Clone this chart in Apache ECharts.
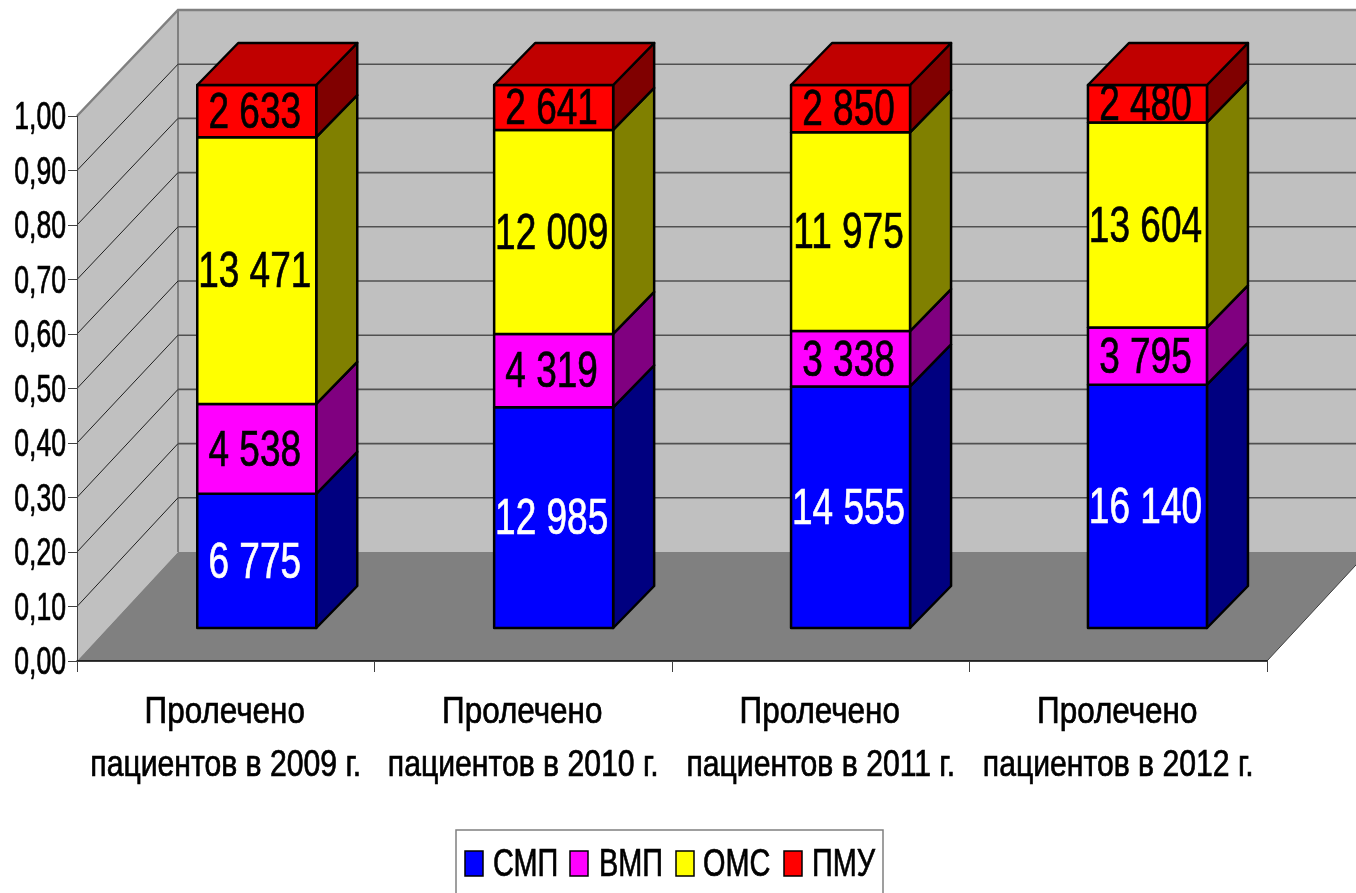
<!DOCTYPE html>
<html><head><meta charset="utf-8">
<style>html,body{margin:0;padding:0;background:#fff}#c{width:1356px;height:893px}</style>
<script src="https://cdn.jsdelivr.net/npm/echarts@6/dist/echarts.min.js"></script>
</head><body><div id="c"></div>
<script>
const categories = ['Пролечено\nпациентов в 2009 г.','Пролечено\nпациентов в 2010 г.','Пролечено\nпациентов в 2011 г.','Пролечено\nпациентов в 2012 г.'];
const smp = [6775, 12985, 14555, 16140];
const vmp = [4538, 4319, 3338, 3795];
const oms = [13471, 12009, 11975, 13604];
const pmu = [2633, 2641, 2850, 2480];
const yTicks = [0,0.1,0.2,0.3,0.4,0.5,0.6,0.7,0.8,0.9,1];
const seriesNames = ['СМП','ВМП','ОМС','ПМУ'];
const seriesValues = [smp, vmp, oms, pmu];
const frontColors = ['#0000FF','#FF00FF','#FFFF00','#FF0000'];
const sideColors = ['#000080','#800080','#808000','#800000'];
const labelColors = ['#FFFFFF','#000000','#000000','#000000'];
const FONT = '"Liberation Sans",Arial,sans-serif';

const fmt = v => String(v).replace(/\B(?=(\d{3})+$)/g,' ');
const chart = echarts.init(document.getElementById('c'));

function narrowText(text,x,y,size,sx,fill,extra){
  return {type:'text',x,y,scaleX:sx,scaleY:1,z2:10,
    style:Object.assign({text,font:size+'px '+FONT,fill,align:'center',verticalAlign:'middle',stroke:fill,lineWidth:0.7},extra||{})};
}

function wallItem(params, api){
  const y = api.coord([0, api.value(0)])[1];
  const cs = params.coordSys;
  const x0 = cs.x, x1 = cs.x + cs.width;
  const DX = 101, backY = v => 552 - v * 542;
  const by = backY(api.value(0));
  const kids = [];
  if (params.dataIndex === 0) {
    const fy = cs.y + cs.height;
    kids.push({type:'rect',shape:{x:x0+DX,y:10,width:cs.width,height:542},style:{fill:'#C0C0C0'}});
    kids.push({type:'polygon',shape:{points:[[x0,cs.y],[x0+DX,10],[x0+DX,552],[x0,fy]]},style:{fill:'#C0C0C0'}});
    kids.push({type:'polygon',shape:{points:[[x0,fy],[x0+DX,552],[x1+DX,552],[x1,fy]]},style:{fill:'#808080'}});
    kids.push({type:'polyline',shape:{points:[[x0,cs.y],[x0+DX,10],[x1+DX,10]]},style:{fill:'none',stroke:'#808080',lineWidth:2.5}});
    kids.push({type:'line',shape:{x1:x0+DX,y1:10,x2:x0+DX,y2:552},style:{stroke:'#808080',lineWidth:2}});
    kids.push({type:'line',shape:{x1:x1,y1:fy,x2:x1+DX,y2:552},style:{stroke:'#404040',lineWidth:1}});
  } else if (api.value(0) < 1) {
    kids.push({type:'line',shape:{x1:x0,y1:y,x2:x0+DX,y2:by},style:{stroke:'#202020',lineWidth:1}});
    kids.push({type:'line',shape:{x1:x0+DX,y1:by,x2:x1+DX,y2:by},style:{stroke:'#505050',lineWidth:1.6}});
  }
  kids.push(narrowText(api.value(0).toFixed(2).replace('.',','),x0-11,y+3,38,0.70,'#000',{align:'right'}));
  return {type:'group',children:kids};
}

function catLabelItem(params, api){
  const c = api.coord([api.value(0), 0]);
  const lines = categories[api.value(0)].split('\n');
  return {type:'group',children:[
    narrowText(lines[0],c[0]-1,713,37,0.85,'#000'),
    narrowText(lines[1],c[0],766,37,0.815,'#000')
  ]};
}

function barItem(s){
  return function(params, api){
    const cat = api.value(0), lo = api.value(1), hi = api.value(2), raw = api.value(3);
    const W = 119, offX = 31 - cat * 0.6, offY = 33, sideX = 41, sideY = 42;
    const base = api.coord([cat, 0]);
    const cx = base[0] + offX;
    const bandTop = api.coord([cat, 1])[1];
    const scaleY = 543 / (base[1] - bandTop);
    const yOf = v => base[1] - offY - (base[1] - api.coord([cat, v])[1]) * scaleY;
    const yLo = yOf(lo), yHi = yOf(hi);
    const xL = cx - W/2, xR = cx + W/2;
    const stroke = {stroke:'#000',lineWidth:2.5,lineJoin:'round'};
    const kids = [
      {type:'polygon',shape:{points:[[xR,yLo],[xR+sideX,yLo-sideY],[xR+sideX,yHi-sideY],[xR,yHi]]},style:Object.assign({fill:sideColors[s]},stroke)},
      {type:'rect',shape:{x:xL,y:yHi,width:W,height:yLo-yHi},style:Object.assign({fill:frontColors[s]},stroke)}
    ];
    if (s === seriesValues.length-1) {
      kids.push({type:'polygon',shape:{points:[[xL,yHi],[xL+sideX,yHi-sideY],[xR+sideX,yHi-sideY],[xR,yHi]]},style:Object.assign({fill:'#C00000'},stroke)});
    }
    kids.push(narrowText(fmt(raw),cx-2,(yLo+yHi)/2+3,50,0.74,labelColors[s]));
    return {type:'group',children:kids};
  };
}

const totals = categories.map((_,i)=>seriesValues.reduce((a,v)=>a+v[i],0));
const cum = categories.map(()=>0);
const barSeries = seriesNames.map((name,s)=>{
  const data = categories.map((_,i)=>{
    const lo = cum[i]/totals[i]; cum[i]+=seriesValues[s][i];
    return [i, lo, cum[i]/totals[i], seriesValues[s][i]];
  });
  return {type:'custom',name,z:3,data,encode:{x:0,y:[1,2]},renderItem:barItem(s),itemStyle:{color:frontColors[s],borderColor:'#000',borderWidth:1.5},silent:true};
});

// legend: names and colours from the series lists, drawn condensed like the reference
const legendSwatchX = [465,570,676,784];
const legendTextX = [493,599,703,812];
const legendKids = [{type:'rect',shape:{x:456,y:830,width:427,height:80},style:{fill:'#fff',stroke:'#808080',lineWidth:1.5}}];
seriesNames.forEach((name,s)=>{
  legendKids.push({type:'rect',shape:{x:legendSwatchX[s],y:851,width:18,height:25},style:{fill:frontColors[s],stroke:'#000',lineWidth:1.5}});
  legendKids.push({type:'text',x:legendTextX[s],y:866,scaleX:0.76,style:{text:name,font:'38px '+FONT,fill:'#000',stroke:'#000',lineWidth:0.7,align:'left',verticalAlign:'middle'}});
});

chart.setOption({
  animation:false,
  backgroundColor:'#fff',
  grid:{left:77,top:116,width:1190,height:545,containLabel:false,outerBoundsMode:'none'},
  xAxis:{type:'category',data:categories,z:5,
    axisLine:{lineStyle:{color:'#000',width:1.5}},
    axisTick:{show:true,length:11,lineStyle:{color:'#404040',width:1}},
    axisLabel:{show:false},splitLine:{show:false}},
  yAxis:{type:'value',min:0,max:1,interval:0.1,z:5,
    axisLine:{show:true,lineStyle:{color:'#404040',width:1}},
    axisTick:{show:true,length:9,lineStyle:{color:'#404040',width:1}},
    axisLabel:{show:false},
    splitLine:{show:false}},
  graphic:{elements:[{type:'group',children:legendKids}]},
  series:[
    {type:'custom',z:1,data:yTicks.map(v=>[v]),encode:{y:0},renderItem:wallItem,silent:true},
    {type:'custom',z:4,data:categories.map((_,i)=>[i]),encode:{x:0},renderItem:catLabelItem,silent:true}
  ].concat(barSeries)
});
</script></body></html>
